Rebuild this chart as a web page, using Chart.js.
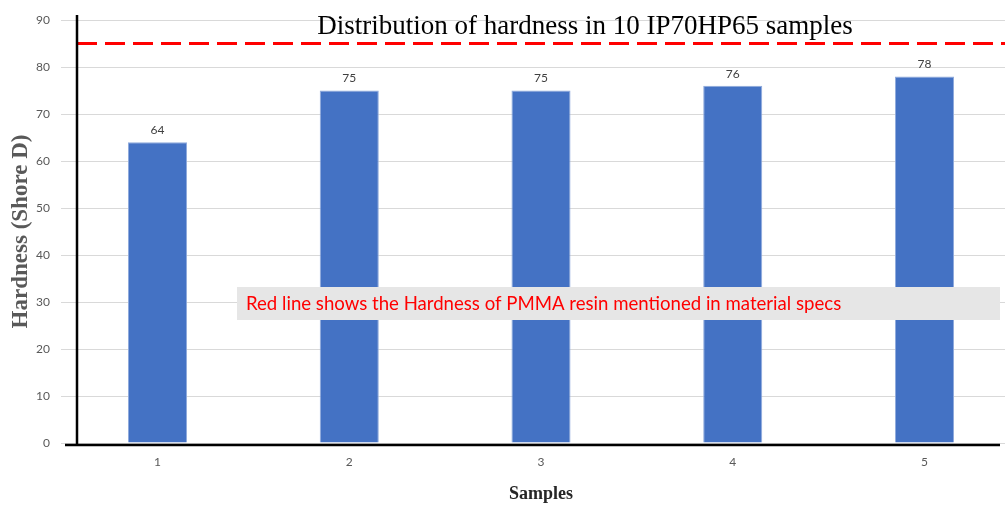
<!DOCTYPE html>
<html>
<head>
<meta charset="utf-8">
<script src="https://cdn.jsdelivr.net/npm/chart.js@4.4.1/dist/chart.umd.min.js"></script>
<style>
  html, body { margin: 0; padding: 0; background: #fff; overflow: hidden; }
  #wrap { width: 1005px; height: 506px; }
</style>
</head>
<body>
<div id="wrap"><canvas id="hardness" width="1005" height="506"></canvas></div>
<script>
// samples and measured hardness (Shore D)
var samples = [1, 2, 3, 4, 5];
var hardness = [64, 75, 75, 76, 78];
var specHardness = 85; // PMMA resin spec (red dashed line)
var yTicks = [0, 10, 20, 30, 40, 50, 60, 70, 80, 90];

var chartTitle = 'Distribution of hardness in 10 IP70HP65 samples';
var noteText = 'Red line shows the Hardness of PMMA resin mentioned in material specs';

// Blue: #4472C4
var extras = {
    id: 'extras',
    afterDatasetsDraw: function (chart) {
        var ctx = chart.ctx;
        var area = chart.chartArea;
        var y = chart.scales.y;
        ctx.save();

        // data labels above bars
        var meta = chart.getDatasetMeta(0);
        ctx.font = '12px Lato';
        ctx.fillStyle = '#404040';
        ctx.textAlign = 'center';
        ctx.textBaseline = 'bottom';
        meta.data.forEach(function (bar, i) {
            ctx.fillText(hardness[i], bar.x, bar.y - 6);
        });

        // spec line
        var sy = y.getPixelForValue(specHardness);
        ctx.strokeStyle = '#FF0000';
        ctx.lineWidth = 3;
        ctx.setLineDash([20, 8]);
        ctx.beginPath();
        ctx.moveTo(area.left, sy);
        ctx.lineTo(area.right, sy);
        ctx.stroke();
        ctx.setLineDash([]);

        // axis lines
        ctx.strokeStyle = '#000';
        ctx.lineWidth = 2.5;
        ctx.beginPath();
        ctx.moveTo(area.left, area.top - 5);
        ctx.lineTo(area.left, area.bottom + 2);
        ctx.moveTo(area.left - 12, area.bottom + 2);
        ctx.lineTo(area.right - 5, area.bottom + 2);
        ctx.stroke();

        // title
        ctx.font = '27px "Liberation Serif"';
        ctx.fillStyle = '#000';
        ctx.textAlign = 'center';
        ctx.textBaseline = 'alphabetic';
        ctx.fillText(chartTitle, 585, 34);

        // note box
        ctx.fillStyle = '#E6E6E6';
        ctx.fillRect(237, 287, 763, 33);
        ctx.font = '18.6px Lato';
        ctx.fillStyle = '#FF0000';
        ctx.textAlign = 'left';
        ctx.textBaseline = 'middle';
        ctx.fillText(noteText, 246, 304);

        ctx.restore();
    }
};

var hardnessChart = new Chart(document.getElementById('hardness'), {
    type: 'bar',
    data: {
        datasets: [{
            label: 'Hardness',
            data: samples.map(function (s, i) { return { x: s, y: hardness[i] }; }),
            backgroundColor: '#4472C4',
            borderColor: '#8FAADC',
            borderWidth: 1,
            categoryPercentage: 1,
            barPercentage: 0.308
        }]
    },
    options: {
        responsive: false,
        animation: false,
        layout: { padding: { top: 20, right: 0, left: 0, bottom: 0 } },
        plugins: { legend: { display: false }, tooltip: { enabled: false } },
        scales: {
            x: {
                type: 'linear',
                offset: false,
                min: 0.58,
                max: 5.42,
                afterBuildTicks: function (s) { s.ticks = samples.map(function (v) { return { value: v }; }); },
                afterFit: function (s) { s.height = 63; },
                grid: { display: false },
                border: { display: false },
                ticks: { color: '#595959', font: { family: 'Lato', size: 12 }, padding: 4 },
                title: {
                    display: true, text: 'Samples', color: '#262626',
                    font: { family: 'Liberation Serif', size: 18, weight: 'bold' },
                    padding: { top: 14, bottom: 1 }
                }
            },
            y: {
                min: 0,
                max: 90,
                afterBuildTicks: function (s) { s.ticks = yTicks.map(function (v) { return { value: v }; }); },
                afterFit: function (s) { s.width = 77; },
                grid: { color: '#D9D9D9', tickLength: 16, tickColor: '#D9D9D9' },
                border: { display: false },
                ticks: { color: '#595959', font: { family: 'Lato', size: 12 }, padding: 11 },
                title: {
                    display: true, text: 'Hardness (Shore D)', color: '#595959',
                    font: { family: 'Liberation Serif', size: 23, weight: 'bold' },
                    padding: { top: 7, bottom: 0 }
                }
            }
        }
    },
    plugins: [extras]
});
</script>
</body>
</html>
